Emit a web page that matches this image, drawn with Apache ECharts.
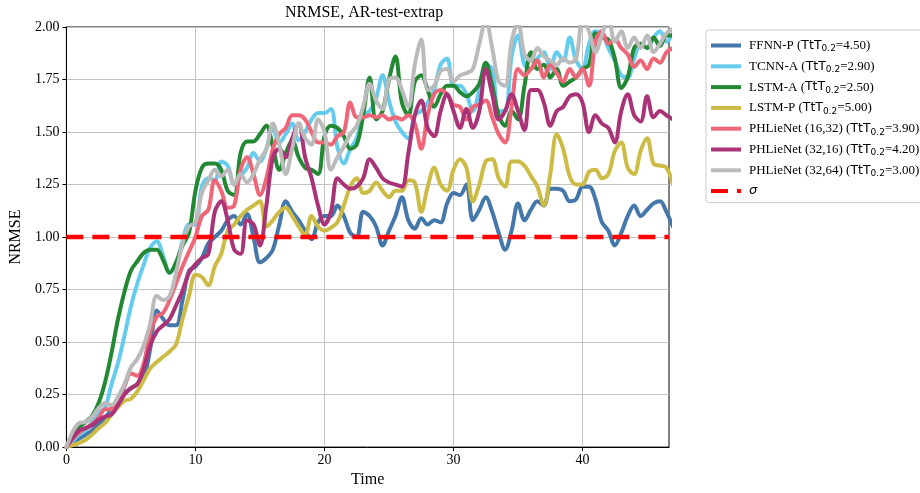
<!DOCTYPE html>
<html>
<head>
<meta charset="utf-8">
<script src="https://cdn.jsdelivr.net/npm/echarts@6/dist/echarts.min.js"></script>
<style>
html, body { margin: 0; padding: 0; background: #fff; }
#chart { width: 920px; height: 493px; }
</style>
</head>
<body>
<div id="chart"></div>
<script>
// Sampling grid of the error curves (time units)
const timeStep = 0.5;
const timeMax = 46.7;

const xTicks = [0, 10, 20, 30, 40];
const yTicks = [0, 0.25, 0.5, 0.75, 1.0, 1.25, 1.5, 1.75, 2.0];

const sigmaLevel = 1.0;

const modelNames = [
  'FFNN-P', 'TCNN-A', 'LSTM-A', 'LSTM-P',
  'PHLieNet (16,32)', 'PHLieNet (32,16)', 'PHLieNet (32,64)'
];
const tttScores = ['4.50', '2.90', '2.50', '5.00', '3.90', '4.20', '3.00'];
const modelColors = ['#4477AA', '#66CCEE', '#228833', '#CCBB44', '#EE6677', '#AA3377', '#BBBBBB'];

// NRMSE per model, one value every timeStep starting at t = 0
const ffnnP = [
  0, 0.02, 0.04, 0.06, 0.08, 0.11, 0.14, 0.18, 0.22, 0.26,
  0.28, 0.3, 0.33, 0.47, 0.65, 0.61, 0.58, 0.58, 0.7, 0.84,
  0.86, 0.9, 0.97, 1.0, 1.03, 1.08, 1.1, 1.06, 1.11, 1.0,
  0.88, 0.9, 0.94, 1.06, 1.17, 1.12, 1.08, 1.03, 0.99, 1.07,
  1.1, 1.1, 1.15, 1.1, 1.02, 1.0, 1.12, 1.1, 1.05, 0.96,
  1.03, 1.1, 1.19, 1.08, 1.04, 1.09, 1.06, 1.08, 1.07, 1.16,
  1.21, 1.2, 1.25, 1.08, 1.13, 1.19, 1.12, 1.02, 0.94, 1.03,
  1.16, 1.08, 1.13, 1.17, 1.15, 1.23, 1.23, 1.22, 1.17, 1.18,
  1.24, 1.24, 1.18, 1.07, 1.03, 0.96, 1.02, 1.1, 1.15, 1.1,
  1.13, 1.16, 1.17, 1.12, 1.05
];
const tcnnA = [
  0, 0.03, 0.06, 0.08, 0.12, 0.16, 0.19, 0.3, 0.4, 0.53,
  0.67, 0.78, 0.87, 0.95, 0.98, 0.91, 0.83, 0.87, 0.98, 1.06,
  1.06, 1.24, 1.28, 1.27, 1.36, 1.34, 1.25, 1.29, 1.33, 1.4,
  1.36, 1.42, 1.52, 1.45, 1.49, 1.54, 1.46, 1.5, 1.56, 1.59,
  1.59, 1.61, 1.43, 1.35, 1.42, 1.47, 1.58, 1.6, 1.66, 1.77,
  1.65, 1.55, 1.5, 1.47, 1.58, 1.6, 1.64, 1.7, 1.82, 1.85,
  1.72, 1.72, 1.68, 1.6, 1.7, 1.82, 1.8, 1.6, 1.6, 1.86,
  1.96, 1.82, 1.8, 1.85, 1.88, 1.8, 1.88, 1.84, 1.95, 1.84,
  1.8, 1.92, 1.98, 1.97, 1.9, 1.84, 1.77, 1.76, 1.85, 1.92,
  1.9, 1.95, 1.98, 1.93, 1.97
];
const lstmA = [
  0, 0.05, 0.095, 0.12, 0.15, 0.21, 0.31, 0.45, 0.61, 0.74,
  0.84, 0.885, 0.925, 0.94, 0.94, 0.89, 0.83, 0.88, 0.96, 1.02,
  1.22, 1.33, 1.35, 1.35, 1.32, 1.22, 1.2, 1.4, 1.455, 1.455,
  1.49, 1.53, 1.43, 1.32, 1.4, 1.46, 1.38, 1.33, 1.32, 1.3,
  1.48, 1.53, 1.52, 1.48, 1.42, 1.44, 1.58, 1.76, 1.56, 1.6,
  1.75, 1.86, 1.64, 1.58, 1.74, 1.77, 1.7, 1.62, 1.68, 1.72,
  1.72, 1.69, 1.67, 1.69, 1.73, 1.83, 1.72, 1.58, 1.53, 1.6,
  1.56, 1.72, 1.88, 1.8, 1.82, 1.76, 1.8, 1.72, 1.74, 1.76,
  1.8, 1.82, 1.97, 1.95, 1.94, 1.85, 1.71, 1.76, 1.9, 1.92,
  1.9, 1.95, 1.91, 1.96, 1.96
];
const lstmP = [
  0, 0.01, 0.02, 0.035, 0.06, 0.09, 0.115, 0.155, 0.19, 0.22,
  0.23, 0.265, 0.32, 0.375, 0.405, 0.43, 0.455, 0.49, 0.61, 0.72,
  0.82, 0.81, 0.77, 0.86, 0.92, 1.03, 1.06, 1.1, 1.13, 1.15,
  1.17, 1.05, 1.08, 1.12, 1.14, 1.1, 1.05, 1.01, 1.1, 1.05,
  1.03, 1.045, 1.07, 1.15, 1.24, 1.28, 1.21, 1.22, 1.26, 1.22,
  1.19, 1.22, 1.22, 1.27, 1.26, 1.12, 1.24, 1.33, 1.25, 1.22,
  1.32, 1.37, 1.33, 1.17, 1.25, 1.36, 1.37, 1.28, 1.24, 1.36,
  1.36, 1.34, 1.29, 1.24, 1.15, 1.3, 1.49, 1.42, 1.29, 1.25,
  1.25, 1.31, 1.32, 1.28, 1.3, 1.41, 1.45, 1.33, 1.3, 1.41,
  1.47, 1.35, 1.34, 1.33, 1.25
];
const phl1632 = [
  0, 0.04, 0.07, 0.09, 0.11, 0.14, 0.18, 0.18, 0.22, 0.29,
  0.35, 0.34, 0.4, 0.55, 0.62, 0.64, 0.7, 0.78, 0.86, 0.93,
  1.0, 1.1, 1.13, 1.27, 1.22, 1.14, 1.15, 1.32, 1.38, 1.3,
  1.2, 1.28, 1.42, 1.49, 1.52, 1.58, 1.58, 1.56, 1.5, 1.45,
  1.45, 1.44, 1.48, 1.5, 1.64, 1.57, 1.57, 1.58, 1.57, 1.58,
  1.56, 1.57, 1.56, 1.58, 1.54, 1.42, 1.58, 1.68, 1.7, 1.68,
  1.63, 1.62, 1.56, 1.62, 1.63, 1.65, 1.57, 1.49, 1.45, 1.62,
  1.8, 1.77, 1.8, 1.84, 1.76, 1.82, 1.78, 1.74, 1.8, 1.76,
  1.8, 1.72, 1.93, 1.98, 1.92, 1.94, 1.9, 1.87, 1.81, 1.84,
  1.8, 1.85, 1.83, 1.88, 1.9
];
const phl3216 = [
  0, 0.045, 0.08, 0.09, 0.105, 0.13, 0.145, 0.155, 0.2, 0.25,
  0.28, 0.3, 0.375, 0.485, 0.55, 0.58, 0.61, 0.675, 0.745, 0.83,
  0.87, 0.9, 0.92, 1.12, 1.17, 1.08, 0.94, 0.92, 1.08, 1.06,
  0.96, 1.15, 1.38, 1.42, 1.38, 1.47, 1.54, 1.38, 1.28, 1.15,
  1.06, 1.12, 1.28, 1.25, 1.23, 1.24, 1.28, 1.37, 1.33, 1.28,
  1.26, 1.25, 1.24, 1.4, 1.58, 1.65, 1.52, 1.48, 1.6, 1.68,
  1.6, 1.52, 1.61, 1.52, 1.6, 1.8, 1.68, 1.56, 1.6, 1.68,
  1.6, 1.51, 1.7, 1.7, 1.64, 1.53, 1.6, 1.62, 1.67, 1.68,
  1.64, 1.5, 1.58, 1.54, 1.52, 1.45, 1.6, 1.68, 1.58, 1.55,
  1.67, 1.57, 1.6, 1.58, 1.56
];
const phl3264 = [
  0, 0.075, 0.115, 0.12, 0.145, 0.185, 0.21, 0.2, 0.24, 0.3,
  0.38, 0.42, 0.485, 0.59, 0.72, 0.7, 0.72, 0.83, 0.97, 1.05,
  1.07, 1.21, 1.27, 1.32, 1.29, 1.32, 1.25, 1.3, 1.26, 1.3,
  1.37, 1.42, 1.54, 1.44, 1.3, 1.42, 1.54, 1.47, 1.44, 1.56,
  1.5, 1.32, 1.38, 1.43, 1.49, 1.53, 1.62, 1.73, 1.65, 1.61,
  1.75, 1.76, 1.7, 1.62, 1.82, 1.94, 1.7, 1.72, 1.79, 1.8,
  1.74, 1.77, 1.78, 1.8, 1.92, 2.03, 1.9, 1.74, 1.72, 1.93,
  2.02, 1.87, 1.84, 1.9, 1.86, 1.84, 1.82, 1.85, 1.83, 1.85,
  2.03, 1.98, 1.88, 1.96, 2.04, 1.93, 1.98, 1.9, 1.95, 1.9,
  1.96, 1.88, 1.92, 1.97, 1.99
];

const modelValues = [ffnnP, tcnnA, lstmA, lstmP, phl1632, phl3216, phl3264];
const sigmaName = 'σ';

const serif = 'Liberation Serif, Times New Roman, serif';
const sans = 'DejaVu Sans, sans-serif';

const chart = echarts.init(document.getElementById('chart'), null, { renderer: 'canvas' });

const series = modelNames.map((name, k) => ({
  name: name,
  type: 'line',
  data: modelValues[k].map((v, i) => [i * timeStep, v]),
  showSymbol: false,
  symbol: 'none',
  smooth: 0.35,
  clip: true,
  lineStyle: { color: modelColors[k], width: 4, join: 'round', cap: 'round' },
  itemStyle: { color: modelColors[k] },
  z: 2 + k
}));

series.push({
  name: sigmaName,
  type: 'line',
  data: [[0, sigmaLevel], [timeMax, sigmaLevel]],
  showSymbol: false,
  symbol: 'none',
  lineStyle: { color: '#FF0000', width: 4.5, type: [17, 9], cap: 'butt' },
  itemStyle: { color: '#FF0000' },
  z: 20
});

chart.setOption({
  animation: false,
  backgroundColor: '#ffffff',
  title: {
    text: 'NRMSE, AR-test-extrap',
    left: 285,
    top: 5,
    padding: 0,
    textStyle: { fontFamily: serif, fontSize: 16, fontWeight: 'normal', color: '#000' }
  },
  grid: {
    left: 65, right: 251, top: 27, bottom: 43,
    show: true, borderColor: '#000', borderWidth: 1, backgroundColor: 'transparent'
  },
  legend: {
    orient: 'vertical',
    left: 706,
    top: 30,
    padding: [9, 40, 5, 3],
    itemWidth: 30,
    itemHeight: 14,
    itemGap: 6.3,
    borderColor: '#cccccc',
    borderWidth: 1,
    borderRadius: 3,
    backgroundColor: '#fff',
    itemStyle: { opacity: 0 },
    lineStyle: { width: 4, cap: 'butt' },
    data: modelNames.concat([sigmaName]),
    formatter: function (name) {
      if (name === sigmaName) return '{sig|σ}';
      const k = modelNames.indexOf(name);
      return '{n|' + name + ' (}{m|TtT}{sub|0.2}{n|=' + tttScores[k] + ')}';
    },
    textStyle: {
      padding: [0, 0, 0, 3],
      rich: {
        n: { fontFamily: serif, fontSize: 13, color: '#000', lineHeight: 16 },
        m: { fontFamily: sans, fontSize: 12.5, color: '#000', lineHeight: 16 },
        sub: { fontFamily: sans, fontSize: 9, color: '#000', lineHeight: 10, verticalAlign: 'bottom' },
        sig: { fontFamily: sans, fontStyle: 'italic', fontSize: 13, color: '#000', lineHeight: 16 }
      }
    }
  },
  xAxis: {
    type: 'value',
    min: 0,
    max: timeMax,
    name: 'Time',
    nameLocation: 'middle',
    nameGap: 24,
    nameTextStyle: { fontFamily: serif, fontSize: 16, color: '#000' },
    axisLine: { show: true, onZero: false, lineStyle: { color: '#000', width: 1 } },
    axisTick: { show: true, inside: false, length: 4, customValues: xTicks, lineStyle: { color: '#000' } },
    axisLabel: { customValues: xTicks, margin: 6, fontFamily: serif, fontSize: 14, color: '#000' },
    splitLine: { show: true, lineStyle: { color: '#c4c4c4', width: 1 } }
  },
  yAxis: {
    type: 'value',
    min: 0,
    max: 2,
    interval: 0.25,
    name: 'NRMSE',
    nameLocation: 'middle',
    nameGap: 36,
    nameTextStyle: { fontFamily: serif, fontSize: 16, color: '#000' },
    axisLine: { show: true, onZero: false, lineStyle: { color: '#000', width: 1 } },
    axisTick: { show: true, inside: false, length: 4, customValues: yTicks, lineStyle: { color: '#000' } },
    axisLabel: {
      customValues: yTicks,
      margin: 7,
      fontFamily: serif,
      fontSize: 14,
      color: '#000',
      formatter: function (v) { return v.toFixed(2); }
    },
    splitLine: { show: true, lineStyle: { color: '#c4c4c4', width: 1 } }
  },
  series: series
});
</script>
</body>
</html>
